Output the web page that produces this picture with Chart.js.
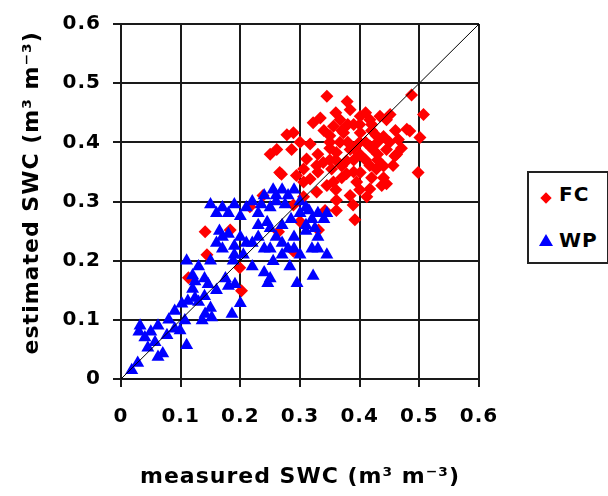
<!DOCTYPE html>
<html>
<head>
<meta charset="utf-8">
<script src="https://cdn.jsdelivr.net/npm/chart.js@4"></script>
<style>
  html, body { margin: 0; padding: 0; background: #fff; }
  #wrap { position: relative; width: 608px; height: 496px; font-family: "DejaVu Sans", sans-serif; }
  #chart { position: absolute; left: 0; top: 0; }
  #legend {
    position: absolute; left: 527px; top: 171px; width: 78px; height: 89px;
    border: 2px solid #222; background: #fff;
  }
  .item { position: absolute; left: 0; font-weight: bold; font-size: 20px; letter-spacing: 1px; color: #000; }
  .diamond { position: absolute; width: 8px; height: 8px; background: #ff0000; transform: rotate(45deg); }
  .tri { position: absolute; width: 0; height: 0; border-left: 7px solid transparent; border-right: 7px solid transparent; border-bottom: 12px solid #0000ff; }
</style>
</head>
<body>
<div id="wrap">
  <canvas id="chart" width="608" height="496"></canvas>
  <div id="legend">
    <div class="diamond" style="left: 13px; top: 21px;"></div>
    <div class="item" style="left: 30px; top: 9px;">FC</div>
    <div class="tri" style="left: 10px; top: 61px;"></div>
    <div class="item" style="left: 30px; top: 55px;">WP</div>
  </div>
</div>
<script>
// measured vs estimated soil water content, field capacity (FC) and wilting point (WP)
const fcX = [0.345, 0.379, 0.487, 0.507, 0.384, 0.289, 0.322, 0.334, 0.356, 0.367,
             0.401, 0.417, 0.434, 0.451, 0.479, 0.501, 0.465, 0.428, 0.401, 0.373,
             0.350, 0.317, 0.300, 0.261, 0.250, 0.286, 0.311, 0.367, 0.384, 0.361,
             0.378, 0.417, 0.445, 0.462, 0.456, 0.417, 0.428, 0.401, 0.378, 0.353,
             0.339, 0.328, 0.306, 0.266, 0.294, 0.317, 0.345, 0.395, 0.417, 0.437,
             0.498, 0.384, 0.361, 0.412, 0.328, 0.306, 0.278, 0.269, 0.484, 0.459,
             0.445, 0.445, 0.356, 0.389, 0.392, 0.361, 0.289, 0.216, 0.238, 0.141,
             0.183, 0.264, 0.300, 0.331, 0.289, 0.144, 0.199, 0.113, 0.202, 0.342,
             0.306, 0.390, 0.400, 0.420, 0.370, 0.430, 0.390, 0.350, 0.330, 0.410,
             0.360, 0.340, 0.350, 0.360, 0.370, 0.380, 0.380, 0.390, 0.390, 0.400,
             0.400, 0.410, 0.410, 0.420, 0.420, 0.430, 0.430, 0.440, 0.440, 0.350,
             0.370, 0.330, 0.360, 0.400, 0.420, 0.440, 0.450, 0.460, 0.470];
const fcY = [0.478, 0.469, 0.480, 0.447, 0.455, 0.416, 0.433, 0.441, 0.427, 0.438,
             0.444, 0.438, 0.444, 0.447, 0.422, 0.408, 0.405, 0.411, 0.416, 0.416,
             0.411, 0.397, 0.400, 0.388, 0.380, 0.388, 0.372, 0.400, 0.388, 0.383,
             0.369, 0.394, 0.388, 0.380, 0.361, 0.361, 0.355, 0.349, 0.347, 0.355,
             0.366, 0.361, 0.355, 0.349, 0.344, 0.338, 0.327, 0.333, 0.321, 0.327,
             0.349, 0.310, 0.302, 0.308, 0.316, 0.333, 0.413, 0.346, 0.419, 0.377,
             0.438, 0.330, 0.333, 0.294, 0.269, 0.285, 0.294, 0.291, 0.310, 0.249,
             0.252, 0.249, 0.266, 0.252, 0.216, 0.210, 0.188, 0.171, 0.149, 0.285,
             0.308, 0.430, 0.400, 0.420, 0.360, 0.370, 0.370, 0.390, 0.380, 0.450,
             0.450, 0.420, 0.400, 0.370, 0.420, 0.400, 0.430, 0.390, 0.350, 0.380,
             0.430, 0.370, 0.400, 0.390, 0.430, 0.400, 0.380, 0.410, 0.360, 0.370,
             0.340, 0.350, 0.320, 0.320, 0.340, 0.340, 0.400, 0.420, 0.390];

const wpX = [0.018, 0.028, 0.032, 0.040, 0.045, 0.062, 0.057, 0.070, 0.077, 0.062,
             0.090, 0.102, 0.112, 0.107, 0.110, 0.090, 0.124, 0.141, 0.152, 0.136,
             0.124, 0.186, 0.146, 0.191, 0.200, 0.099, 0.030, 0.050, 0.080, 0.110,
             0.130, 0.150, 0.120, 0.140, 0.165, 0.180, 0.200, 0.170, 0.190, 0.205,
             0.160, 0.175, 0.180, 0.120, 0.188, 0.150, 0.170, 0.190, 0.210, 0.180,
             0.160, 0.200, 0.240, 0.255, 0.270, 0.280, 0.260, 0.250, 0.290, 0.230,
             0.245, 0.310, 0.330, 0.345, 0.320, 0.230, 0.250, 0.260, 0.280, 0.310,
             0.330, 0.320, 0.330, 0.345, 0.220, 0.240, 0.250, 0.246, 0.295, 0.322,
             0.283, 0.255, 0.270, 0.290, 0.300, 0.240, 0.220, 0.170, 0.190, 0.210,
             0.230, 0.250, 0.270, 0.290, 0.140, 0.160, 0.130, 0.150, 0.220, 0.235,
             0.260, 0.275, 0.300, 0.315, 0.300, 0.285, 0.270, 0.310, 0.325, 0.340];
const wpY = [0.015, 0.027, 0.090, 0.070, 0.053, 0.090, 0.062, 0.043, 0.074, 0.037,
             0.115, 0.127, 0.132, 0.099, 0.057, 0.085, 0.137, 0.110, 0.104, 0.099,
             0.165, 0.110, 0.160, 0.160, 0.128, 0.082, 0.080, 0.080, 0.100, 0.200,
             0.190, 0.200, 0.175, 0.170, 0.250, 0.245, 0.240, 0.220, 0.225, 0.210,
             0.230, 0.170, 0.157, 0.152, 0.200, 0.295, 0.290, 0.295, 0.290, 0.280,
             0.280, 0.275, 0.310, 0.320, 0.320, 0.310, 0.300, 0.290, 0.320, 0.280,
             0.265, 0.290, 0.280, 0.280, 0.270, 0.260, 0.255, 0.240, 0.220, 0.250,
             0.240, 0.220, 0.220, 0.210, 0.190, 0.180, 0.170, 0.162, 0.162, 0.174,
             0.190, 0.199, 0.230, 0.240, 0.210, 0.220, 0.230, 0.240, 0.210, 0.230,
             0.240, 0.220, 0.210, 0.220, 0.140, 0.150, 0.130, 0.120, 0.300, 0.295,
             0.310, 0.295, 0.300, 0.285, 0.280, 0.270, 0.260, 0.260, 0.255, 0.270];

// 1:1 reference line
const lineX = [0, 0.6];
const lineY = [0, 0.6];

const tickLabels = ['0', '0.1', '0.2', '0.3', '0.4', '0.5', '0.6'];

function toPoints(xs, ys) {
    return xs.map((x, i) => ({ x: x, y: ys[i] }));
}

const spacing = {
    id: 'spacing',
    beforeUpdate: function(chart) { chart.ctx.letterSpacing = '1px'; },
    beforeDraw: function(chart) { chart.ctx.letterSpacing = '1px'; }
};

const axisFont = { family: 'DejaVu Sans', size: 20, weight: 'bold' };
const titleFont = { family: 'DejaVu Sans', size: 22, weight: 'bold' };
const gridColor = '#1a1a1a';

new Chart(document.getElementById('chart'), {
    type: 'scatter',
    data: {
        datasets: [{
            label: '1:1',
            type: 'line',
            data: toPoints(lineX, lineY),
            borderColor: '#000',
            borderWidth: 1,
            pointRadius: 0,
            fill: false,
            order: 0
        }, {
            label: 'WP',
            data: toPoints(wpX, wpY),
            pointStyle: 'triangle',
            pointRadius: 7.5,
            backgroundColor: '#0000ff',
            borderColor: '#0000ff',
            borderWidth: 0,
            order: 1
        }, {
            label: 'FC',
            data: toPoints(fcX, fcY),
            pointStyle: 'rectRot',
            pointRadius: 6.5,
            backgroundColor: '#ff0000',
            borderColor: '#ff0000',
            borderWidth: 0,
            order: 2
        }]
    },
    options: {
        responsive: false,
        animation: false,
        layout: {
            padding: { left: 0, top: 21, right: 129, bottom: 0 }
        },
        scales: {
            x: {
                type: 'linear',
                min: 0,
                max: 0.6,
                ticks: {
                    stepSize: 0.1,
                    padding: 18,
                    color: '#000',
                    font: axisFont,
                    callback: function(value, index) { return tickLabels[index]; }
                },
                grid: { color: gridColor, lineWidth: 2, tickLength: 8 },
                border: { color: gridColor, width: 2 },
                title: {
                    display: true,
                    text: 'measured SWC (m³ m⁻³)',
                    color: '#000',
                    font: titleFont,
                    padding: { top: 0, bottom: 6 }
                },
                afterFit: function(scale) { scale.height = 117; }
            },
            y: {
                type: 'linear',
                min: 0,
                max: 0.6,
                ticks: {
                    stepSize: 0.1,
                    padding: 12,
                    color: '#000',
                    font: axisFont,
                    callback: function(value, index) { return tickLabels[index]; }
                },
                grid: { color: gridColor, lineWidth: 2, tickLength: 8 },
                border: { color: gridColor, width: 2 },
                title: {
                    display: true,
                    // two leading spaces nudge the centred title up a little
                    text: '  estimated SWC (m³ m⁻³)',
                    color: '#000',
                    font: titleFont,
                    padding: { top: 19, bottom: 0 }
                },
                afterFit: function(scale) { scale.width = 121; }
            }
        },
        plugins: {
            legend: { display: false },
            tooltip: { enabled: false }
        }
    },
    plugins: [spacing]
});
</script>
</body>
</html>
